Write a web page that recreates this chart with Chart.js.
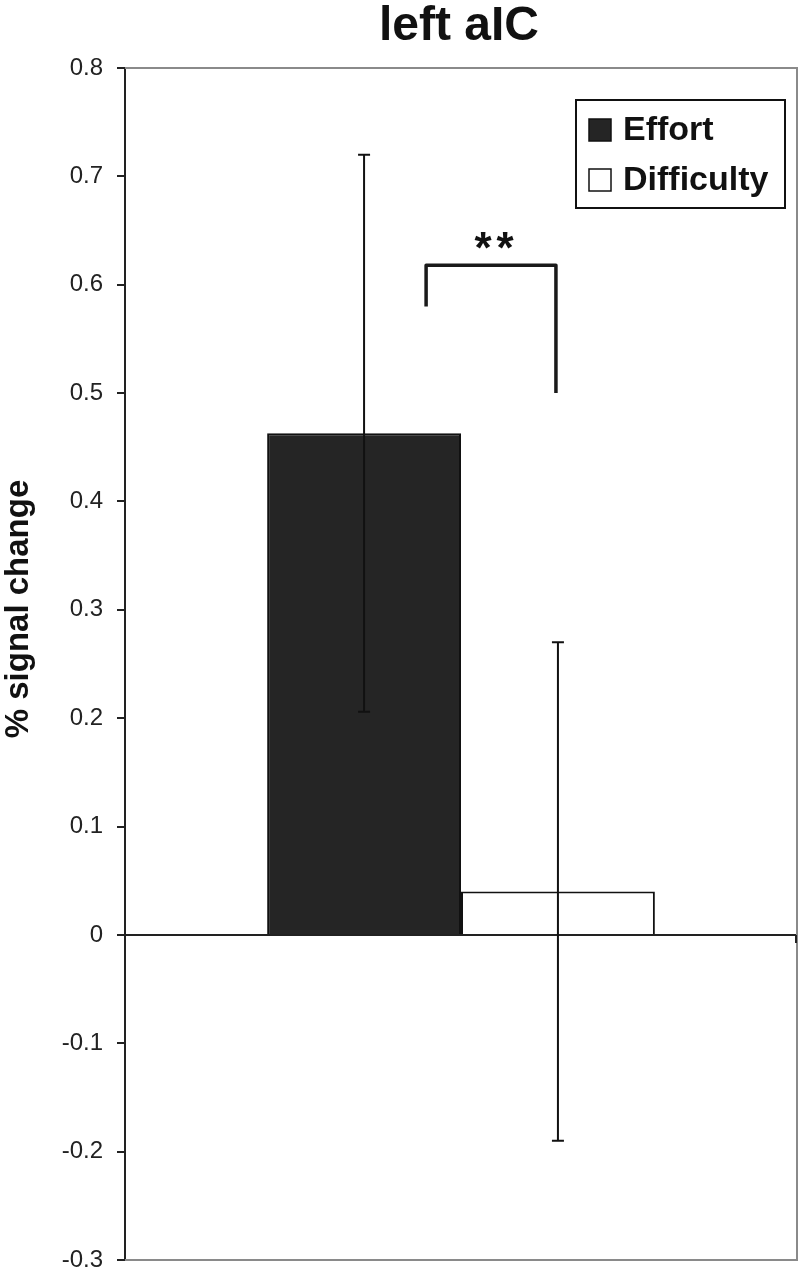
<!DOCTYPE html>
<html>
<head>
<meta charset="utf-8">
<script src="https://cdn.jsdelivr.net/npm/chart.js@4"></script>
<style>
  html, body { margin: 0; padding: 0; background: #fff; overflow: hidden; }
  canvas { display: block; }
</style>
</head>
<body>
<canvas id="chart" width="800" height="1275"></canvas>
<script>
// données
const categories = ['left aIC'];
const seriesNames = ['Effort', 'Difficulty'];
const effortValues = [0.463];
const difficultyValues = [0.04];
const effortErrors = [0.257];
const difficultyErrors = [0.23];
const yMin = -0.3, yMax = 0.8, yStep = 0.1;
// crochet de significativité: niveaux gauche, haut, droite
const bracketLevels = [0.58, 0.618, 0.5];
const bracketLabel = '**';

const errors = [effortErrors, difficultyErrors];

const titlePlugin = {
    id: 'titles',
    afterDraw(chart) {
        const c = chart.ctx, a = chart.chartArea;
        c.save();
        c.fillStyle = '#111';
        c.textAlign = 'center';
        c.textBaseline = 'middle';
        c.font = 'bold 48px "Liberation Sans", Arial, sans-serif';
        c.fillText(categories[0], (a.left + a.right) / 2 - 2, 27);
        c.translate(19, 609);
        c.rotate(-Math.PI / 2);
        c.font = 'bold 33px "Liberation Sans", Arial, sans-serif';
        c.fillText('% signal change', 0, 0);
        c.restore();
    }
};

const framePlugin = {
    id: 'frame',
    beforeDatasetsDraw(chart) {
        const c = chart.ctx, a = chart.chartArea;
        c.save();
        c.strokeStyle = '#8a8a8a';
        c.lineWidth = 2;
        c.beginPath();
        c.moveTo(a.left, a.top); c.lineTo(a.right, a.top);
        c.lineTo(a.right, a.bottom); c.lineTo(a.left, a.bottom);
        c.stroke();
        // petit repère à droite de l'axe zéro
        const y0 = chart.scales.y.getPixelForValue(0);
        c.strokeStyle = '#222';
        c.beginPath(); c.moveTo(a.right - 1, y0); c.lineTo(a.right - 1, y0 + 8); c.stroke();
        c.restore();
    }
};

const errorPlugin = {
    id: 'errorbars',
    afterDatasetsDraw(chart) {
        const c = chart.ctx, ys = chart.scales.y;
        c.save();
        c.strokeStyle = '#111';
        c.lineWidth = 2;
        chart.data.datasets.forEach((ds, i) => {
            const meta = chart.getDatasetMeta(i);
            meta.data.forEach((bar, j) => {
                const v = ds.data[j], e = errors[i][j];
                const yt = ys.getPixelForValue(v + e), yb = ys.getPixelForValue(v - e);
                c.beginPath();
                c.moveTo(bar.x, yt); c.lineTo(bar.x, yb);
                c.moveTo(bar.x - 6, yt); c.lineTo(bar.x + 6, yt);
                c.moveTo(bar.x - 6, yb); c.lineTo(bar.x + 6, yb);
                c.stroke();
            });
        });
        // crochet **
        const b0 = chart.getDatasetMeta(0).data[0], b1 = chart.getDatasetMeta(1).data[0];
        const xl = b0.x + 0.32 * b0.width, xr = b1.x - 2;
        const yl = ys.getPixelForValue(bracketLevels[0]);
        const yt = ys.getPixelForValue(bracketLevels[1]);
        const yr = ys.getPixelForValue(bracketLevels[2]);
        c.lineWidth = 3.5;
        c.strokeStyle = '#1a1a1a';
        c.lineJoin = 'round';
        c.beginPath();
        c.moveTo(xl, yl); c.lineTo(xl, yt); c.lineTo(xr, yt); c.lineTo(xr, yr);
        c.stroke();
        c.fillStyle = '#111';
        c.textAlign = 'center';
        c.textBaseline = 'alphabetic';
        c.font = 'bold 44px "Liberation Sans", Arial, sans-serif';
        const mid = (xl + xr) / 2 + 3;
        c.fillText(bracketLabel[0], mid - 11, yt - 2);
        c.fillText(bracketLabel[1], mid + 11, yt - 2);
        c.restore();
    }
};

const legendPlugin = {
    id: 'boxlegend',
    afterDraw(chart) {
        const c = chart.ctx;
        const x = 576, y = 100, w = 209, h = 108;
        c.save();
        c.fillStyle = '#fff';
        c.fillRect(x, y, w, h);
        c.strokeStyle = '#111';
        c.lineWidth = 2;
        c.strokeRect(x, y, w, h);
        c.font = 'bold 34px "Liberation Sans", Arial, sans-serif';
        c.textBaseline = 'middle';
        chart.data.datasets.forEach((ds, i) => {
            const cy = y + 30 + i * 50;
            c.fillStyle = ds.backgroundColor;
            c.fillRect(x + 13, cy - 11, 22, 22);
            c.strokeStyle = '#111';
            c.lineWidth = 1.5;
            c.strokeRect(x + 13, cy - 11, 22, 22);
            c.fillStyle = '#111';
            c.fillText(ds.label, x + 47, cy + 1);
        });
        c.restore();
    }
};

new Chart(document.getElementById('chart').getContext('2d'), {
    type: 'bar',
    data: {
        labels: categories,
        datasets: [
            { label: seriesNames[0], data: effortValues, backgroundColor: '#252525', borderColor: '#111', borderWidth: 2 },
            { label: seriesNames[1], data: difficultyValues, backgroundColor: '#ffffff', borderColor: '#111', borderWidth: 2 }
        ]
    },
    options: {
        responsive: false,
        devicePixelRatio: 1,
        animation: false,
        layout: { padding: { top: 68, right: 3, bottom: 0, left: 0 } },
        datasets: { bar: { categoryPercentage: 0.577, barPercentage: 1.0 } },
        plugins: { legend: { display: false }, title: { display: false }, tooltip: { enabled: false } },
        scales: {
            x: { display: false },
            y: {
                min: yMin, max: yMax,
                afterFit(scale) { scale.width = 125; scale.paddingBottom = 15; scale.paddingTop = 0; },
                border: { display: true, color: '#222', width: 2 },
                grid: {
                    color: ctx => (ctx.tick && ctx.tick.value === 0 ? '#222' : 'rgba(0,0,0,0)'),
                    lineWidth: 2,
                    tickColor: '#222',
                    tickLength: 8,
                    drawTicks: true
                },
                ticks: {
                    stepSize: yStep,
                    padding: 14,
                    color: '#222',
                    font: { family: '"Liberation Sans", Arial, sans-serif', size: 24 },
                    callback: v => { const r = Math.round(v * 10) / 10; return r === 0 ? '0' : String(r); }
                }
            }
        }
    },
    plugins: [framePlugin, errorPlugin, titlePlugin, legendPlugin]
});
</script>
</body>
</html>
